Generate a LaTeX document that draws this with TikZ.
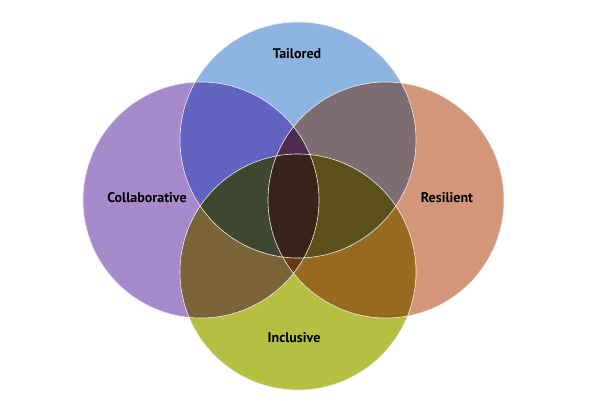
\documentclass[tikz,border=0pt]{standalone}
\usepackage{fontspec}
\setmainfont{PT Sans}
\begin{document}
\begin{tikzpicture}[x=1pt,y=-1pt,lbl/.style={font=\bfseries\fontsize{14}{16}\selectfont,text=black}]
\useasboundingbox (0,0) rectangle (600,400);
\def\r{118}
\def\T{(298,140) circle (\r)}
\def\L{(201,200) circle (\r)}
\def\R{(386,200) circle (\r)}
\def\B{(298,272) circle (\r)}
\definecolor{cT}{HTML}{8DB4E3}\definecolor{cL}{HTML}{A68ACB}
\definecolor{cR}{HTML}{D4967A}\definecolor{cB}{HTML}{B5BF42}
\definecolor{cTL}{HTML}{6262C2}\definecolor{cTR}{HTML}{7E6C73}
\definecolor{cLB}{HTML}{7B6339}\definecolor{cRB}{HTML}{976A1F}
\definecolor{cTLR}{HTML}{4F2C4F}\definecolor{cLRB}{HTML}{6A3A15}
\definecolor{cTLB}{HTML}{3F4730}\definecolor{cTRB}{HTML}{5A5018}
\definecolor{cQ}{HTML}{3A2419}
\fill[cT] \T; \fill[cL] \L; \fill[cR] \R; \fill[cB] \B;
\begin{scope}\clip \T; \fill[cTL] \L; \end{scope}
\begin{scope}\clip \T; \fill[cTR] \R; \end{scope}
\begin{scope}\clip \B; \fill[cLB] \L; \end{scope}
\begin{scope}\clip \B; \fill[cRB] \R; \end{scope}
\begin{scope}\clip \T; \clip \L; \fill[cTLR] \R; \end{scope}
\begin{scope}\clip \B; \clip \L; \fill[cLRB] \R; \end{scope}
\begin{scope}\clip \T; \clip \B; \fill[cTLB] \L; \end{scope}
\begin{scope}\clip \T; \clip \B; \fill[cTRB] \R; \end{scope}
\begin{scope}\clip \T; \clip \B; \clip \L; \fill[cQ] \R; \end{scope}
\draw[white!85!gray, line width=0.6pt] \T \L \R \B;
\node[lbl] (t) at (297,54) {Tailored};
\node[lbl] (c) at (147,198) {Collaborative};
\node[lbl] (r) at (447,198) {Resilient};
\node[lbl] (i) at (294,338) {Inclusive};
\end{tikzpicture}
\end{document}
